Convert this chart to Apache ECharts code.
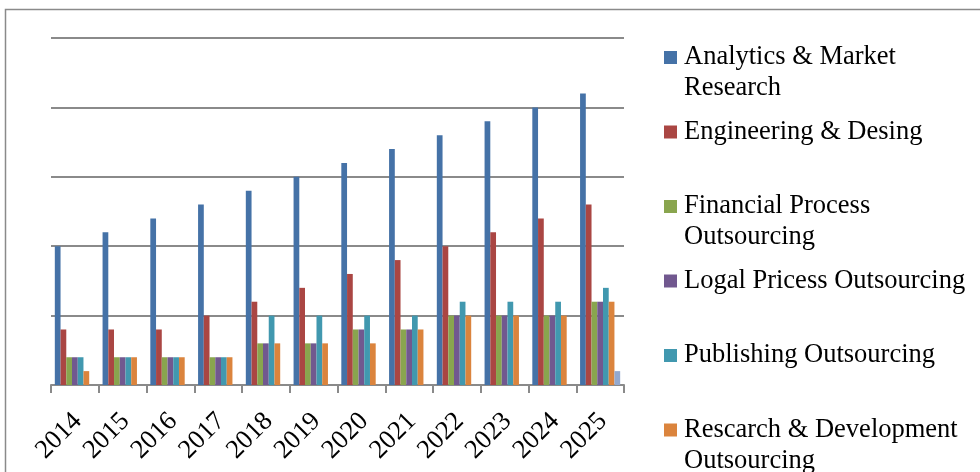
<!DOCTYPE html>
<html>
<head>
<meta charset="utf-8">
<title>Outsourcing segments 2014-2025</title>
<script src="https://cdn.jsdelivr.net/npm/echarts@6/dist/echarts.min.js"></script>
<style>
  html, body { margin: 0; padding: 0; background: #ffffff; }
  #chart { width: 980px; height: 472px; }
</style>
</head>
<body>
<div id="chart"></div>
<script>
// Categories and series values
var years = ['2014', '2015', '2016', '2017', '2018', '2019', '2020', '2021', '2022', '2023', '2024', '2025'];

var analyticsMarket = [20, 22, 24, 26, 28, 30, 32, 34, 36, 38, 40, 42];
var engineeringDesign = [8, 8, 8, 10, 12, 14, 16, 18, 20, 22, 24, 26];
var financialProcess = [4, 4, 4, 4, 6, 6, 8, 8, 10, 10, 10, 12];
var legalProcess = [4, 4, 4, 4, 6, 6, 8, 8, 10, 10, 10, 12];
var publishing = [4, 4, 4, 4, 10, 10, 10, 10, 12, 12, 12, 14];
var researchDev = [2, 4, 4, 4, 6, 6, 6, 8, 10, 10, 10, 12];
var otherSegment = [null, null, null, null, null, null, null, null, null, null, null, 2];

var seriesNames = [
  'Analytics & Market Research',
  'Engineering & Desing',
  'Financial Process Outsourcing',
  'Logal Pricess Outsourcing',
  'Publishing Outsourcing',
  'Rescarch & Development Outsourcing'
];
var legendLabels = {
  'Analytics & Market Research': 'Analytics & Market\nResearch',
  'Engineering & Desing': 'Engineering & Desing\n ',
  'Financial Process Outsourcing': 'Financial Process\nOutsourcing',
  'Logal Pricess Outsourcing': 'Logal Pricess Outsourcing\n ',
  'Publishing Outsourcing': 'Publishing Outsourcing\n ',
  'Rescarch & Development Outsourcing': 'Rescarch & Development\nOutsourcing'
};
var palette = ['#4572A7', '#AA4643', '#89A54E', '#71588F', '#4198AF', '#DB843D', '#93A9CF'];

var valueSets = [analyticsMarket, engineeringDesign, financialProcess, legalProcess, publishing, researchDev, otherSegment];
var names = seriesNames.concat(['Other Outsourcing']);

var series = valueSets.map(function (vals, i) {
  return {
    name: names[i],
    type: 'bar',
    data: vals,
    barGap: '0%',
    barCategoryGap: '16%',
    itemStyle: { color: palette[i] }
  };
});

var chart = echarts.init(document.getElementById('chart'), null, { renderer: 'canvas' });
chart.setOption({
  animation: false,
  backgroundColor: '#ffffff',
  color: palette,
  textStyle: { fontFamily: 'Liberation Serif' },
  graphic: [{
    type: 'rect',
    silent: true,
    shape: { x: 5.5, y: 9.5, width: 1000, height: 500 },
    style: { fill: 'none', stroke: '#8a8a8a', lineWidth: 1.5 }
  }],
  grid: { left: 51, right: 356, top: 38, bottom: 87, containLabel: false },
  legend: {
    orient: 'vertical',
    left: 664,
    top: 42,
    height: 700,
    itemWidth: 13,
    itemHeight: 62,
    itemGap: 12.5,
    padding: 0,
    icon: 'path://M0,0L0,0M0,9L13,9L13,22L0,22ZM13,62L13,62',
    data: seriesNames,
    formatter: function (name) { return legendLabels[name]; },
    textStyle: {
      fontFamily: 'Liberation Serif',
      fontSize: 26.5,
      lineHeight: 31,
      color: '#000000',
      padding: [0, 0, 0, 2]
    }
  },
  xAxis: {
    type: 'category',
    data: years,
    boundaryGap: true,
    axisLine: { show: true, lineStyle: { color: '#8a8a8a', width: 2 } },
    axisTick: { show: true, length: 8, alignWithLabel: false, lineStyle: { color: '#8a8a8a', width: 2 } },
    axisLabel: {
      interval: 0,
      rotate: 45,
      margin: 35,
      padding: [0, -4, 0, 0],
      fontFamily: 'Liberation Serif',
      fontSize: 26.5,
      color: '#000000'
    }
  },
  yAxis: {
    type: 'value',
    min: 0,
    max: 50,
    interval: 10,
    axisLine: { show: false },
    axisTick: { show: false },
    axisLabel: { show: false },
    splitLine: { show: true, lineStyle: { color: '#8a8a8a', width: 2 } }
  },
  series: series
});
</script>
</body>
</html>
